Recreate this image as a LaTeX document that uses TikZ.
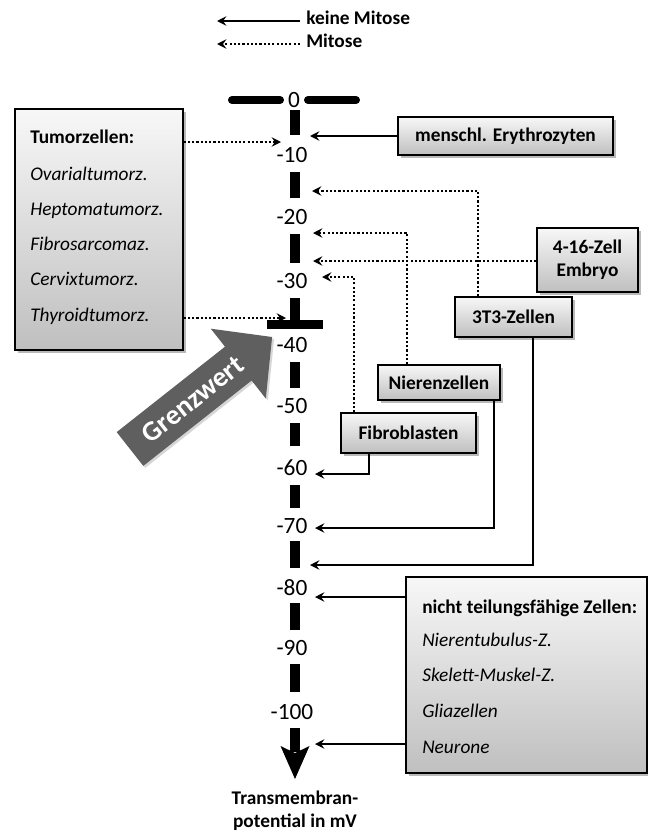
\documentclass[tikz,border=0pt]{standalone}
\usepackage{fontspec}
\setmainfont{Carlito}
\usetikzlibrary{arrows.meta,shadows,calc}
\definecolor{gwgray}{RGB}{95,95,95}
\begin{document}
\begin{tikzpicture}[x=0.75pt,y=-0.75pt,
  every node/.style={inner sep=0pt, font=\fontsize{14.5}{17.25}\selectfont},
  box/.style={draw=black, line width=0.9pt, top color=gray!6, bottom color=gray!50,
    drop shadow={shadow xshift=2.2pt, shadow yshift=-2.2pt, fill=black!50, opacity=0.55}},
  tip/.style={-{Stealth[length=7pt,width=7pt,inset=2.5pt]}},
  solidarr/.style={line width=1.4pt, tip},
  dotarr/.style={line width=1.6pt, dash pattern=on 1.6pt off 1.6pt, tip},
  axisbar/.style={line width=6.8pt},
  axislabel/.style={font=\fontsize{17.5}{20}\selectfont},
  lbl/.style={anchor=west, text height=0.72em, text depth=0.22em},
  boldtxt/.style={font=\fontsize{14.5}{17.25}\selectfont\bfseries}
]
\useasboundingbox (0,0) rectangle (648,832);
\fill[white] (0,0) rectangle (648,832);

% legend
\node[boldtxt, lbl] (lgt1) at (306,21) {keine Mitose};
\node[boldtxt, lbl] (lgt2) at (306,44) {Mitose};
\coordinate (lg1e) at (217,21);
\coordinate (lg2e) at (217,44);
\draw[solidarr] ([xshift=-4.5pt]lgt1.west) -- (lg1e);
\draw[dotarr] ([xshift=-4.5pt]lgt2.west) -- (lg2e);

% axis
\draw[line width=6pt, line cap=round] (232,100) -- (280,100);
\draw[line width=6pt, line cap=round] (308,100) -- (356,100);
\node[axislabel] (l0) at (294,100) {0};
\foreach \a/\b in {110/135,172/198,234/263,298/322,362/388,423/446,485/508,541/568,603/630,664/692,728/752}
  \draw[axisbar] (295,\a) -- (295,\b);
\draw[axisbar] (267,324.5) -- (323,324.5);
\fill (295,779) -- (280.5,746) -- (295,753) -- (309.5,746) -- cycle;
\foreach \v/\y in {10/155,20/217,30/281,40/345,50/406,60/468,70/526,80/588,90/648,100/712}
  \node[axislabel] (l\v) at (292,\y) {-\v};
\node[boldtxt, align=center] (xlab) at (295,811) {Transmembran-\\potential in mV};

% Grenzwert arrow
\fill[gwgray, drop shadow={shadow xshift=1.5pt, shadow yshift=-1.5pt, fill=black!40, opacity=0.4}]
  (143.3,465.9) -- (116.7,432.1) -- (225.0,346.7) -- (210.8,328.7) -- (272.1,337.0)
  -- (265.8,398.5) -- (251.6,380.5) -- cycle;
\node[rotate=38.3, text=white, font=\fontsize{21}{24}\selectfont\bfseries] (gw) at (192.8,399.5) {Grenzwert};

% axis end points
\coordinate (p10) at (310,136);
\coordinate (pt10) at (281,142);
\coordinate (pt35) at (286,318);
\coordinate (pd1) at (312,191);
\coordinate (pd2) at (313,233);
\coordinate (pd3) at (313,261);
\coordinate (pd4) at (322,277);
\coordinate (p60) at (315,474);
\coordinate (p70) at (315,528);
\coordinate (p75) at (310,565);
\coordinate (p80) at (315,597);
\coordinate (p105) at (315,744);

% boxes
\node[box, minimum width=126pt, minimum height=180.75pt] (tum) at (99,229.5) {};
\node[boldtxt, lbl] (tum0) at (30,140) {Tumorzellen:};
\node[lbl] (tum1) at (30,177) {\itshape Ovarialtumorz.};
\node[lbl] (tum2) at (30,212) {\itshape Heptomatumorz.};
\node[lbl] (tum3) at (30,247) {\itshape Fibrosarcomaz.};
\node[lbl] (tum4) at (30,282) {\itshape Cervixtumorz.};
\node[lbl] (tum5) at (30,318) {\itshape Thyroidtumorz.};

\node[box, minimum width=161.25pt, minimum height=28.5pt, boldtxt] (ery) at (505.5,136) {menschl. Erythrozyten};
\node[box, minimum width=75.75pt, minimum height=48pt, boldtxt, align=center] (emb) at (587.5,260) {4-16-Zell\\Embryo};
\node[box, minimum width=87.75pt, minimum height=30pt, boldtxt] (t3) at (513.5,317) {3T3-Zellen};
\node[box, minimum width=91.5pt, minimum height=26.25pt, boldtxt] (nier) at (439,382.5) {Nierenzellen};
\node[box, minimum width=101.25pt, minimum height=30pt, boldtxt] (fib) at (408.5,433) {Fibroblasten};

\node[box, minimum width=180.75pt, minimum height=147pt] (nt) at (526.5,675) {};
\node[boldtxt, lbl] (nt0) at (422,610) {nicht teilungsfähige Zellen:};
\node[lbl] (nt1) at (422,643) {\itshape Nierentubulus-Z.};
\node[lbl] (nt2) at (422,678) {\itshape Skelett-Muskel-Z.};
\node[lbl] (nt3) at (422,714) {\itshape Gliazellen};
\node[lbl] (nt4) at (422,750) {\itshape Neurone};

% connectors
\draw[solidarr] (ery.west) -- (p10);
\draw[dotarr] (tum.east |- pt10) -- (pt10);
\draw[dotarr] (tum.east |- pt35) -- (pt35);
\draw[dotarr] ($(t3.north west)+(24,0)$) |- (pd1);
\draw[dotarr] ($(nier.north west)+(30,0)$) |- (pd2);
\draw[dotarr] (emb.west |- pd3) -- (pd3);
\draw[dotarr] ($(fib.north west)+(14,0)$) |- (pd4);
\draw[solidarr] ($(fib.south west)+(29,0)$) |- (p60);
\draw[solidarr] ($(nier.south east)+(-7,0)$) |- (p70);
\draw[solidarr] ($(t3.south west)+(79,0)$) |- (p75);
\draw[solidarr] (nt.west |- p80) -- (p80);
\draw[solidarr] (nt.west |- p105) -- (p105);
\end{tikzpicture}
\end{document}
